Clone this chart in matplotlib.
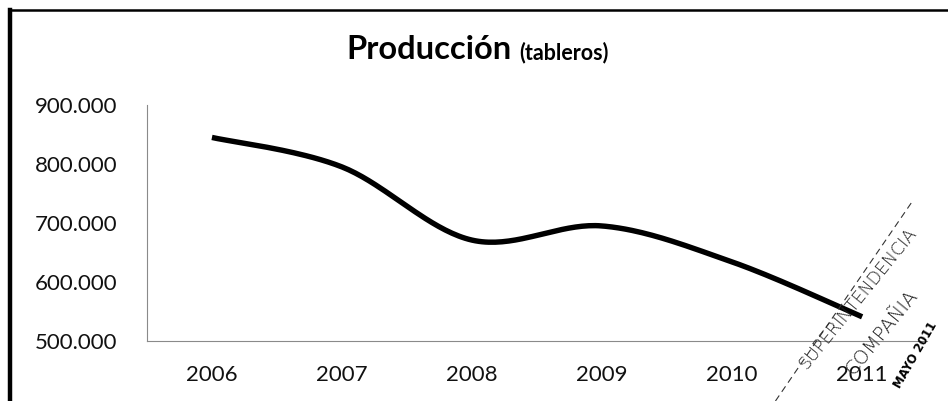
import numpy as np
import matplotlib.pyplot as plt
from matplotlib.lines import Line2D

# data
years = ['2006', '2007', '2008', '2009', '2010', '2011']
produccion = [845000, 795000, 671000, 695000, 634000, 541000]
y_ticks = [500000, 600000, 700000, 800000, 900000]


# Excel-like smoothed line (Catmull-Rom through the points)
def smooth(x, y, n=40):
    x = np.asarray(x, float)
    y = np.asarray(y, float)
    px = np.concatenate([[x[0]], x, [x[-1]]])
    py = np.concatenate([[y[0]], y, [y[-1]]])
    xs, ys = [], []
    t = np.linspace(0, 1, n)
    for i in range(1, len(px) - 2):
        p0, p1, p2, p3 = px[i-1], px[i], px[i+1], px[i+2]
        q0, q1, q2, q3 = py[i-1], py[i], py[i+1], py[i+2]
        xs.append(0.5 * ((2*p1) + (-p0+p2)*t + (2*p0-5*p1+4*p2-p3)*t**2 + (-p0+3*p1-3*p2+p3)*t**3))
        ys.append(0.5 * ((2*q1) + (-q0+q2)*t + (2*q0-5*q1+4*q2-q3)*t**2 + (-q0+3*q1-3*q2+q3)*t**3))
    return np.concatenate(xs), np.concatenate(ys)


plt.rcParams['font.family'] = ['Lato', 'DejaVu Sans']

fig = plt.figure(figsize=(9.48, 4.01), dpi=100)
ax = fig.add_axes([0.155, 0.1496, 0.823, 0.5886])

x = np.arange(len(years))
sx, sy = smooth(x, produccion)
ax.plot(sx, sy, color='black', linewidth=3.9, solid_capstyle='butt')

ax.set_xlim(-0.5, len(years) - 0.5)
ax.set_ylim(500000, 900000)
ax.set_xticks(x)
ax.set_xticklabels(years)
ax.set_yticks(y_ticks)
ax.set_yticklabels([f'{v:,}'.replace(',', '.') for v in y_ticks])
ax.tick_params(length=0, labelsize=16, colors='#111111')
ax.tick_params(axis='y', pad=21)
ax.tick_params(axis='x', pad=17)

for s in ['top', 'right']:
    ax.spines[s].set_visible(False)
for s in ['left', 'bottom']:
    ax.spines[s].set_color('#8a8a8a')
    ax.spines[s].set_linewidth(0.8)
    ax.spines[s].set_linestyle((0, (3, 1)))

# title: big bold word + smaller bold unit
fig.text(0.540, 0.853, 'Producción', fontsize=23.5, fontweight='bold', ha='right', va='baseline')
fig.text(0.548, 0.853, '(tableros)', fontsize=15.5, fontweight='bold', ha='left', va='baseline')

# frame edges of the scanned chart
fig.add_artist(Line2D([0.0105, 0.0105], [0.0, 0.975], color='black', linewidth=3.2))
fig.add_artist(Line2D([0.0105, 1.0], [0.975, 0.975], color='black', linewidth=1.8))

# stamp in the lower right corner
fig.add_artist(Line2D([0.818, 0.963], [0.0, 0.50], color='#333333', linewidth=0.8,
                      linestyle=(0, (6, 4))))
fig.text(0.905, 0.255, 'SUPERINTENDENCIA', fontsize=12.5, rotation=51, ha='center', va='center',
         color='#222222', fontfamily='DejaVu Sans', fontweight='light')
fig.text(0.930, 0.170, 'COMPAÑIA', fontsize=14, rotation=51, ha='center', va='center',
         color='#222222', fontfamily='DejaVu Sans', fontweight='light')
fig.text(0.966, 0.115, 'MAYO 2011', fontsize=8.5, rotation=60, ha='center', va='center',
         color='black', fontfamily='DejaVu Sans', fontweight='bold')

fig.savefig('out.png', dpi=100)
